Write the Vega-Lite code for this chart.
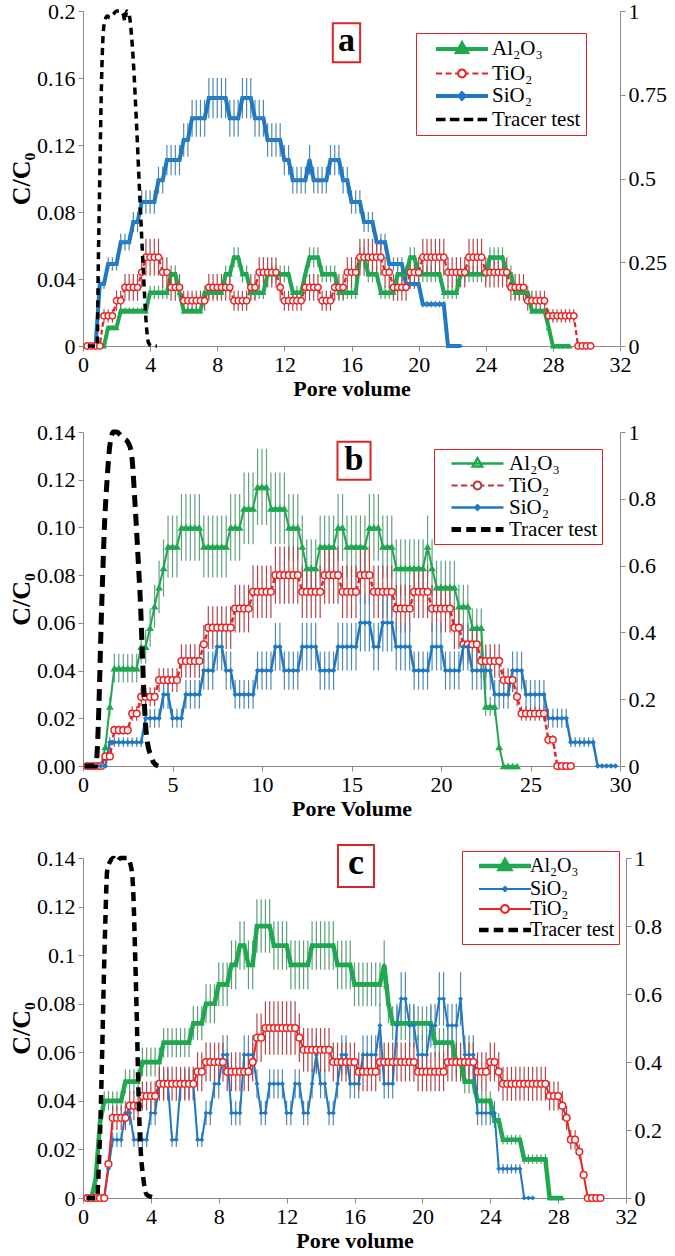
{
"$schema":"https://vega.github.io/schema/vega-lite/v6.json",
"background":"white",
"padding":{"left":8,"top":0,"right":4,"bottom":0},
"spacing":22,
"config":{"font":"Liberation Serif","view":{"stroke":null},
"axis":{"grid":false,"labelFont":"Liberation Serif","labelFontSize":22,"labelColor":"#000000","titleFont":"Liberation Serif","titleColor":"#000000","titleFontWeight":"bold","domainColor":"#8a8a8a","tickColor":"#8a8a8a","tickSize":5,"labelPadding":3,"labelFlush":false,"labelOverlap":false},
"axisX":{"titleFontSize":22,"titlePadding":3},
"axisY":{"titleFontSize":26,"titlePadding":2},
"text":{"font":"Liberation Serif"}},
"resolve":{"scale":{"color":"independent","shape":"independent","strokeWidth":"independent"},"legend":{"color":"independent","shape":"independent","strokeWidth":"independent"}},
"datasets":{
"A":[
{"s":"Al","x":0.25,"y":0},{"s":"Al","x":0.5,"y":0},{"s":"Al","x":0.75,"y":0},{"s":"Al","x":1,"y":0},{"s":"Al","x":1.25,"y":0},
{"s":"Al","x":1.5,"y":0.011,"e":0.001},{"s":"Al","x":1.75,"y":0.011,"e":0.001},{"s":"Al","x":2,"y":0.011,"e":0.001},
{"s":"Al","x":2.25,"y":0.021,"e":0.002},{"s":"Al","x":2.5,"y":0.021,"e":0.002},{"s":"Al","x":2.75,"y":0.021,"e":0.002},{"s":"Al","x":3,"y":0.021,"e":0.002},{"s":"Al","x":3.25,"y":0.021,"e":0.002},{"s":"Al","x":3.5,"y":0.021,"e":0.002},{"s":"Al","x":3.75,"y":0.021,"e":0.002},
{"s":"Al","x":4,"y":0.032,"e":0.004},{"s":"Al","x":4.25,"y":0.032,"e":0.004},{"s":"Al","x":4.5,"y":0.032,"e":0.004},{"s":"Al","x":4.75,"y":0.032,"e":0.004},{"s":"Al","x":5,"y":0.032,"e":0.004},
{"s":"Al","x":5.25,"y":0.043,"e":0.005},{"s":"Al","x":5.5,"y":0.043,"e":0.005},{"s":"Al","x":5.75,"y":0.032,"e":0.004},
{"s":"Al","x":6,"y":0.021,"e":0.002},{"s":"Al","x":6.25,"y":0.021,"e":0.002},{"s":"Al","x":6.5,"y":0.021,"e":0.002},{"s":"Al","x":6.75,"y":0.021,"e":0.002},{"s":"Al","x":7,"y":0.021,"e":0.002},
{"s":"Al","x":7.25,"y":0.032,"e":0.004},{"s":"Al","x":7.5,"y":0.032,"e":0.004},{"s":"Al","x":7.75,"y":0.032,"e":0.004},{"s":"Al","x":8,"y":0.032,"e":0.004},{"s":"Al","x":8.25,"y":0.032,"e":0.004},
{"s":"Al","x":8.5,"y":0.043,"e":0.005},{"s":"Al","x":8.75,"y":0.043,"e":0.005},{"s":"Al","x":9,"y":0.053,"e":0.006},{"s":"Al","x":9.25,"y":0.053,"e":0.006},{"s":"Al","x":9.5,"y":0.043,"e":0.005},{"s":"Al","x":9.75,"y":0.043,"e":0.005},
{"s":"Al","x":10,"y":0.032,"e":0.004},{"s":"Al","x":10.25,"y":0.032,"e":0.004},{"s":"Al","x":10.5,"y":0.032,"e":0.004},{"s":"Al","x":10.75,"y":0.032,"e":0.004},
{"s":"Al","x":11,"y":0.043,"e":0.005},{"s":"Al","x":11.25,"y":0.043,"e":0.005},{"s":"Al","x":11.5,"y":0.043,"e":0.005},{"s":"Al","x":11.75,"y":0.043,"e":0.005},{"s":"Al","x":12,"y":0.043,"e":0.005},{"s":"Al","x":12.25,"y":0.043,"e":0.005},
{"s":"Al","x":12.5,"y":0.032,"e":0.004},{"s":"Al","x":12.75,"y":0.032,"e":0.004},{"s":"Al","x":13,"y":0.032,"e":0.004},{"s":"Al","x":13.25,"y":0.043,"e":0.005},
{"s":"Al","x":13.5,"y":0.053,"e":0.006},{"s":"Al","x":13.75,"y":0.053,"e":0.006},{"s":"Al","x":14,"y":0.053,"e":0.006},
{"s":"Al","x":14.25,"y":0.043,"e":0.005},{"s":"Al","x":14.5,"y":0.043,"e":0.005},{"s":"Al","x":14.75,"y":0.043,"e":0.005},{"s":"Al","x":15,"y":0.043,"e":0.005},
{"s":"Al","x":15.25,"y":0.032,"e":0.004},{"s":"Al","x":15.5,"y":0.032,"e":0.004},{"s":"Al","x":15.75,"y":0.032,"e":0.004},{"s":"Al","x":16,"y":0.032,"e":0.004},{"s":"Al","x":16.25,"y":0.032,"e":0.004},
{"s":"Al","x":16.5,"y":0.053,"e":0.006},{"s":"Al","x":16.75,"y":0.053,"e":0.006},{"s":"Al","x":17,"y":0.043,"e":0.005},{"s":"Al","x":17.25,"y":0.043,"e":0.005},{"s":"Al","x":17.5,"y":0.043,"e":0.005},
{"s":"Al","x":17.75,"y":0.032,"e":0.004},{"s":"Al","x":18,"y":0.032,"e":0.004},{"s":"Al","x":18.25,"y":0.032,"e":0.004},{"s":"Al","x":18.5,"y":0.032,"e":0.004},
{"s":"Al","x":18.75,"y":0.043,"e":0.005},{"s":"Al","x":19,"y":0.043,"e":0.005},{"s":"Al","x":19.25,"y":0.043,"e":0.005},{"s":"Al","x":19.5,"y":0.053,"e":0.006},{"s":"Al","x":19.75,"y":0.053,"e":0.006},
{"s":"Al","x":20,"y":0.043,"e":0.005},{"s":"Al","x":20.25,"y":0.043,"e":0.005},{"s":"Al","x":20.5,"y":0.043,"e":0.005},{"s":"Al","x":20.75,"y":0.043,"e":0.005},{"s":"Al","x":21,"y":0.043,"e":0.005},{"s":"Al","x":21.25,"y":0.043,"e":0.005},
{"s":"Al","x":21.5,"y":0.032,"e":0.004},{"s":"Al","x":21.75,"y":0.032,"e":0.004},{"s":"Al","x":22,"y":0.032,"e":0.004},{"s":"Al","x":22.25,"y":0.032,"e":0.004},
{"s":"Al","x":22.5,"y":0.043,"e":0.005},{"s":"Al","x":22.75,"y":0.043,"e":0.005},{"s":"Al","x":23,"y":0.043,"e":0.005},{"s":"Al","x":23.25,"y":0.043,"e":0.005},{"s":"Al","x":23.5,"y":0.043,"e":0.005},{"s":"Al","x":23.75,"y":0.043,"e":0.005},{"s":"Al","x":24,"y":0.043,"e":0.005},
{"s":"Al","x":24.25,"y":0.053,"e":0.006},{"s":"Al","x":24.5,"y":0.053,"e":0.006},{"s":"Al","x":24.75,"y":0.053,"e":0.006},{"s":"Al","x":25,"y":0.053,"e":0.006},
{"s":"Al","x":25.25,"y":0.043,"e":0.005},{"s":"Al","x":25.5,"y":0.043,"e":0.005},
{"s":"Al","x":25.75,"y":0.032,"e":0.004},{"s":"Al","x":26,"y":0.032,"e":0.004},{"s":"Al","x":26.25,"y":0.032,"e":0.004},{"s":"Al","x":26.5,"y":0.032,"e":0.004},
{"s":"Al","x":26.75,"y":0.021,"e":0.002},{"s":"Al","x":27,"y":0.021,"e":0.002},{"s":"Al","x":27.25,"y":0.021,"e":0.002},{"s":"Al","x":27.5,"y":0.021,"e":0.002},
{"s":"Al","x":27.75,"y":0.011,"e":0.001},{"s":"Al","x":28,"y":0},{"s":"Al","x":28.25,"y":0},{"s":"Al","x":28.5,"y":0},{"s":"Al","x":28.75,"y":0},{"s":"Al","x":29,"y":0},
{"s":"Ti","x":0.25,"y":0},{"s":"Ti","x":0.5,"y":0},{"s":"Ti","x":0.75,"y":0},{"s":"Ti","x":1,"y":0},
{"s":"Ti","x":1.25,"y":0.018,"e":0.004},{"s":"Ti","x":1.5,"y":0.018,"e":0.004},{"s":"Ti","x":1.75,"y":0.018,"e":0.004},
{"s":"Ti","x":2,"y":0.027,"e":0.006},{"s":"Ti","x":2.25,"y":0.027,"e":0.006},
{"s":"Ti","x":2.5,"y":0.035,"e":0.008},{"s":"Ti","x":2.75,"y":0.035,"e":0.008},{"s":"Ti","x":3,"y":0.035,"e":0.008},{"s":"Ti","x":3.25,"y":0.035,"e":0.008},
{"s":"Ti","x":3.5,"y":0.044,"e":0.009},
{"s":"Ti","x":3.75,"y":0.053,"e":0.011},{"s":"Ti","x":4,"y":0.053,"e":0.011},{"s":"Ti","x":4.25,"y":0.053,"e":0.011},{"s":"Ti","x":4.5,"y":0.053,"e":0.011},
{"s":"Ti","x":4.75,"y":0.044,"e":0.009},{"s":"Ti","x":5,"y":0.044,"e":0.009},
{"s":"Ti","x":5.25,"y":0.035,"e":0.008},{"s":"Ti","x":5.5,"y":0.035,"e":0.008},{"s":"Ti","x":5.75,"y":0.035,"e":0.008},
{"s":"Ti","x":6,"y":0.027,"e":0.006},{"s":"Ti","x":6.25,"y":0.027,"e":0.006},{"s":"Ti","x":6.5,"y":0.027,"e":0.006},{"s":"Ti","x":6.75,"y":0.027,"e":0.006},{"s":"Ti","x":7,"y":0.027,"e":0.006},{"s":"Ti","x":7.25,"y":0.027,"e":0.006},
{"s":"Ti","x":7.5,"y":0.035,"e":0.008},{"s":"Ti","x":7.75,"y":0.035,"e":0.008},{"s":"Ti","x":8,"y":0.035,"e":0.008},{"s":"Ti","x":8.25,"y":0.035,"e":0.008},{"s":"Ti","x":8.5,"y":0.035,"e":0.008},{"s":"Ti","x":8.75,"y":0.035,"e":0.008},
{"s":"Ti","x":9,"y":0.027,"e":0.006},{"s":"Ti","x":9.25,"y":0.027,"e":0.006},{"s":"Ti","x":9.5,"y":0.027,"e":0.006},{"s":"Ti","x":9.75,"y":0.027,"e":0.006},
{"s":"Ti","x":10,"y":0.035,"e":0.008},{"s":"Ti","x":10.25,"y":0.035,"e":0.008},
{"s":"Ti","x":10.5,"y":0.044,"e":0.009},{"s":"Ti","x":10.75,"y":0.044,"e":0.009},{"s":"Ti","x":11,"y":0.044,"e":0.009},{"s":"Ti","x":11.25,"y":0.044,"e":0.009},{"s":"Ti","x":11.5,"y":0.044,"e":0.009},
{"s":"Ti","x":11.75,"y":0.035,"e":0.008},
{"s":"Ti","x":12,"y":0.027,"e":0.006},{"s":"Ti","x":12.25,"y":0.027,"e":0.006},{"s":"Ti","x":12.5,"y":0.027,"e":0.006},{"s":"Ti","x":12.75,"y":0.027,"e":0.006},{"s":"Ti","x":13,"y":0.027,"e":0.006},
{"s":"Ti","x":13.25,"y":0.035,"e":0.008},{"s":"Ti","x":13.5,"y":0.035,"e":0.008},{"s":"Ti","x":13.75,"y":0.035,"e":0.008},{"s":"Ti","x":14,"y":0.035,"e":0.008},
{"s":"Ti","x":14.25,"y":0.027,"e":0.006},{"s":"Ti","x":14.5,"y":0.027,"e":0.006},{"s":"Ti","x":14.75,"y":0.027,"e":0.006},
{"s":"Ti","x":15,"y":0.035,"e":0.008},{"s":"Ti","x":15.25,"y":0.035,"e":0.008},{"s":"Ti","x":15.5,"y":0.035,"e":0.008},
{"s":"Ti","x":15.75,"y":0.044,"e":0.009},{"s":"Ti","x":16,"y":0.044,"e":0.009},{"s":"Ti","x":16.25,"y":0.044,"e":0.009},
{"s":"Ti","x":16.5,"y":0.053,"e":0.011},{"s":"Ti","x":16.75,"y":0.053,"e":0.011},{"s":"Ti","x":17,"y":0.053,"e":0.011},{"s":"Ti","x":17.25,"y":0.053,"e":0.011},{"s":"Ti","x":17.5,"y":0.053,"e":0.011},{"s":"Ti","x":17.75,"y":0.053,"e":0.011},
{"s":"Ti","x":18,"y":0.044,"e":0.009},{"s":"Ti","x":18.25,"y":0.044,"e":0.009},
{"s":"Ti","x":18.5,"y":0.035,"e":0.008},{"s":"Ti","x":18.75,"y":0.035,"e":0.008},{"s":"Ti","x":19,"y":0.035,"e":0.008},{"s":"Ti","x":19.25,"y":0.035,"e":0.008},
{"s":"Ti","x":19.5,"y":0.044,"e":0.009},{"s":"Ti","x":19.75,"y":0.044,"e":0.009},{"s":"Ti","x":20,"y":0.044,"e":0.009},
{"s":"Ti","x":20.25,"y":0.053,"e":0.011},{"s":"Ti","x":20.5,"y":0.053,"e":0.011},{"s":"Ti","x":20.75,"y":0.053,"e":0.011},{"s":"Ti","x":21,"y":0.053,"e":0.011},{"s":"Ti","x":21.25,"y":0.053,"e":0.011},{"s":"Ti","x":21.5,"y":0.053,"e":0.011},
{"s":"Ti","x":21.75,"y":0.044,"e":0.009},{"s":"Ti","x":22,"y":0.044,"e":0.009},{"s":"Ti","x":22.25,"y":0.044,"e":0.009},{"s":"Ti","x":22.5,"y":0.044,"e":0.009},{"s":"Ti","x":22.75,"y":0.044,"e":0.009},
{"s":"Ti","x":23,"y":0.053,"e":0.011},{"s":"Ti","x":23.25,"y":0.053,"e":0.011},{"s":"Ti","x":23.5,"y":0.053,"e":0.011},{"s":"Ti","x":23.75,"y":0.053,"e":0.011},
{"s":"Ti","x":24,"y":0.044,"e":0.009},{"s":"Ti","x":24.25,"y":0.044,"e":0.009},{"s":"Ti","x":24.5,"y":0.044,"e":0.009},{"s":"Ti","x":24.75,"y":0.044,"e":0.009},{"s":"Ti","x":25,"y":0.044,"e":0.009},{"s":"Ti","x":25.25,"y":0.044,"e":0.009},
{"s":"Ti","x":25.5,"y":0.035,"e":0.008},{"s":"Ti","x":25.75,"y":0.035,"e":0.008},{"s":"Ti","x":26,"y":0.035,"e":0.008},{"s":"Ti","x":26.25,"y":0.035,"e":0.008},
{"s":"Ti","x":26.5,"y":0.027,"e":0.006},{"s":"Ti","x":26.75,"y":0.027,"e":0.006},{"s":"Ti","x":27,"y":0.027,"e":0.006},{"s":"Ti","x":27.25,"y":0.027,"e":0.006},{"s":"Ti","x":27.5,"y":0.027,"e":0.006},
{"s":"Ti","x":27.75,"y":0.018,"e":0.004},{"s":"Ti","x":28,"y":0.018,"e":0.004},{"s":"Ti","x":28.25,"y":0.018,"e":0.004},{"s":"Ti","x":28.5,"y":0.018,"e":0.004},{"s":"Ti","x":28.75,"y":0.018,"e":0.004},{"s":"Ti","x":29,"y":0.018,"e":0.004},{"s":"Ti","x":29.25,"y":0.018,"e":0.004},
{"s":"Ti","x":29.5,"y":0},{"s":"Ti","x":29.75,"y":0},{"s":"Ti","x":30,"y":0},{"s":"Ti","x":30.25,"y":0},
{"s":"Si","x":0.25,"y":0},{"s":"Si","x":0.5,"y":0},{"s":"Si","x":0.75,"y":0},
{"s":"Si","x":1,"y":0.037,"e":0.003},{"s":"Si","x":1.25,"y":0.037,"e":0.003},
{"s":"Si","x":1.5,"y":0.049,"e":0.004},{"s":"Si","x":1.75,"y":0.049,"e":0.004},{"s":"Si","x":2,"y":0.049,"e":0.004},
{"s":"Si","x":2.25,"y":0.062,"e":0.005},{"s":"Si","x":2.5,"y":0.062,"e":0.005},{"s":"Si","x":2.75,"y":0.062,"e":0.005},
{"s":"Si","x":3,"y":0.074,"e":0.006},{"s":"Si","x":3.25,"y":0.074,"e":0.006},
{"s":"Si","x":3.5,"y":0.086,"e":0.007},{"s":"Si","x":3.75,"y":0.086,"e":0.007},{"s":"Si","x":4,"y":0.086,"e":0.007},{"s":"Si","x":4.25,"y":0.086,"e":0.007},
{"s":"Si","x":4.5,"y":0.099,"e":0.008},{"s":"Si","x":4.75,"y":0.099,"e":0.008},
{"s":"Si","x":5,"y":0.111,"e":0.009},{"s":"Si","x":5.25,"y":0.111,"e":0.009},{"s":"Si","x":5.5,"y":0.111,"e":0.009},{"s":"Si","x":5.75,"y":0.111,"e":0.009},
{"s":"Si","x":6,"y":0.123,"e":0.01},{"s":"Si","x":6.25,"y":0.123,"e":0.01},
{"s":"Si","x":6.5,"y":0.136,"e":0.011},{"s":"Si","x":6.75,"y":0.136,"e":0.011},{"s":"Si","x":7,"y":0.136,"e":0.011},{"s":"Si","x":7.25,"y":0.136,"e":0.011},
{"s":"Si","x":7.5,"y":0.148,"e":0.012},{"s":"Si","x":7.75,"y":0.148,"e":0.012},{"s":"Si","x":8,"y":0.148,"e":0.012},{"s":"Si","x":8.25,"y":0.148,"e":0.012},{"s":"Si","x":8.5,"y":0.148,"e":0.012},
{"s":"Si","x":8.75,"y":0.136,"e":0.011},{"s":"Si","x":9,"y":0.136,"e":0.011},{"s":"Si","x":9.25,"y":0.136,"e":0.011},
{"s":"Si","x":9.5,"y":0.148,"e":0.012},{"s":"Si","x":9.75,"y":0.148,"e":0.012},{"s":"Si","x":10,"y":0.148,"e":0.012},
{"s":"Si","x":10.25,"y":0.136,"e":0.011},{"s":"Si","x":10.5,"y":0.136,"e":0.011},{"s":"Si","x":10.75,"y":0.136,"e":0.011},
{"s":"Si","x":11,"y":0.123,"e":0.01},{"s":"Si","x":11.25,"y":0.123,"e":0.01},{"s":"Si","x":11.5,"y":0.123,"e":0.01},{"s":"Si","x":11.75,"y":0.123,"e":0.01},
{"s":"Si","x":12,"y":0.111,"e":0.009},{"s":"Si","x":12.25,"y":0.111,"e":0.009},
{"s":"Si","x":12.5,"y":0.099,"e":0.008},{"s":"Si","x":12.75,"y":0.099,"e":0.008},{"s":"Si","x":13,"y":0.099,"e":0.008},{"s":"Si","x":13.25,"y":0.099,"e":0.008},
{"s":"Si","x":13.5,"y":0.111,"e":0.009},
{"s":"Si","x":13.75,"y":0.099,"e":0.008},{"s":"Si","x":14,"y":0.099,"e":0.008},{"s":"Si","x":14.25,"y":0.099,"e":0.008},{"s":"Si","x":14.5,"y":0.099,"e":0.008},
{"s":"Si","x":14.75,"y":0.111,"e":0.009},{"s":"Si","x":15,"y":0.111,"e":0.009},{"s":"Si","x":15.25,"y":0.111,"e":0.009},
{"s":"Si","x":15.5,"y":0.099,"e":0.008},{"s":"Si","x":15.75,"y":0.099,"e":0.008},
{"s":"Si","x":16,"y":0.086,"e":0.007},{"s":"Si","x":16.25,"y":0.086,"e":0.007},{"s":"Si","x":16.5,"y":0.086,"e":0.007},
{"s":"Si","x":16.75,"y":0.074,"e":0.006},{"s":"Si","x":17,"y":0.074,"e":0.006},{"s":"Si","x":17.25,"y":0.074,"e":0.006},
{"s":"Si","x":17.5,"y":0.062,"e":0.005},{"s":"Si","x":17.75,"y":0.062,"e":0.005},{"s":"Si","x":18,"y":0.062,"e":0.005},
{"s":"Si","x":18.25,"y":0.049,"e":0.004},{"s":"Si","x":18.5,"y":0.049,"e":0.004},{"s":"Si","x":18.75,"y":0.049,"e":0.004},{"s":"Si","x":19,"y":0.049,"e":0.004},
{"s":"Si","x":19.25,"y":0.037,"e":0.003},{"s":"Si","x":19.5,"y":0.037,"e":0.003},{"s":"Si","x":19.75,"y":0.037,"e":0.003},{"s":"Si","x":20,"y":0.037,"e":0.003},
{"s":"Si","x":20.25,"y":0.025,"e":0.002},{"s":"Si","x":20.5,"y":0.025,"e":0.002},{"s":"Si","x":20.75,"y":0.025,"e":0.002},{"s":"Si","x":21,"y":0.025,"e":0.002},{"s":"Si","x":21.25,"y":0.025,"e":0.002},{"s":"Si","x":21.5,"y":0.025,"e":0.002},
{"s":"Si","x":21.75,"y":0},{"s":"Si","x":22,"y":0},{"s":"Si","x":22.25,"y":0},{"s":"Si","x":22.5,"y":0},
{"s":"Tr","x":0.3,"y":0},{"s":"Tr","x":0.6,"y":0},{"s":"Tr","x":0.85,"y":0},{"s":"Tr","x":0.9,"y":0.2},{"s":"Tr","x":1,"y":0.5},{"s":"Tr","x":1.1,"y":0.78},{"s":"Tr","x":1.2,"y":0.93},{"s":"Tr","x":1.3,"y":0.97},{"s":"Tr","x":1.45,"y":0.985},{"s":"Tr","x":1.6,"y":0.98},{"s":"Tr","x":1.8,"y":0.99},{"s":"Tr","x":2,"y":1},{"s":"Tr","x":2.2,"y":1},{"s":"Tr","x":2.4,"y":0.99},{"s":"Tr","x":2.5,"y":0.97},{"s":"Tr","x":2.6,"y":1},{"s":"Tr","x":2.75,"y":0.99},{"s":"Tr","x":2.85,"y":0.95},{"s":"Tr","x":3,"y":0.85},{"s":"Tr","x":3.2,"y":0.65},{"s":"Tr","x":3.4,"y":0.43},{"s":"Tr","x":3.6,"y":0.22},{"s":"Tr","x":3.75,"y":0.08},{"s":"Tr","x":3.9,"y":0.01},{"s":"Tr","x":4.1,"y":0},{"s":"Tr","x":4.4,"y":0}
],
"B":[
{"s":"Al","x":0.25,"y":0},{"s":"Al","x":0.5,"y":0},{"s":"Al","x":0.75,"y":0},{"s":"Al","x":1,"y":0},
{"s":"Al","x":1.25,"y":0.008,"e":0.001},{"s":"Al","x":1.5,"y":0.025,"e":0.004},
{"s":"Al","x":1.75,"y":0.041,"e":0.006},{"s":"Al","x":2,"y":0.041,"e":0.006},{"s":"Al","x":2.25,"y":0.041,"e":0.006},{"s":"Al","x":2.5,"y":0.041,"e":0.006},{"s":"Al","x":2.75,"y":0.041,"e":0.006},{"s":"Al","x":3,"y":0.041,"e":0.006},
{"s":"Al","x":3.25,"y":0.05,"e":0.007},{"s":"Al","x":3.5,"y":0.05,"e":0.007},{"s":"Al","x":3.75,"y":0.058,"e":0.008},{"s":"Al","x":4,"y":0.067,"e":0.009},{"s":"Al","x":4.25,"y":0.075,"e":0.011},{"s":"Al","x":4.5,"y":0.083,"e":0.012},
{"s":"Al","x":4.75,"y":0.092,"e":0.013},{"s":"Al","x":5,"y":0.092,"e":0.013},{"s":"Al","x":5.25,"y":0.092,"e":0.013},
{"s":"Al","x":5.5,"y":0.1,"e":0.014},{"s":"Al","x":5.75,"y":0.1,"e":0.014},{"s":"Al","x":6,"y":0.1,"e":0.014},{"s":"Al","x":6.25,"y":0.1,"e":0.014},{"s":"Al","x":6.5,"y":0.1,"e":0.014},
{"s":"Al","x":6.75,"y":0.092,"e":0.013},{"s":"Al","x":7,"y":0.092,"e":0.013},{"s":"Al","x":7.25,"y":0.092,"e":0.013},{"s":"Al","x":7.5,"y":0.092,"e":0.013},{"s":"Al","x":7.75,"y":0.092,"e":0.013},{"s":"Al","x":8,"y":0.092,"e":0.013},
{"s":"Al","x":8.25,"y":0.1,"e":0.014},{"s":"Al","x":8.5,"y":0.1,"e":0.014},{"s":"Al","x":8.75,"y":0.1,"e":0.014},
{"s":"Al","x":9,"y":0.108,"e":0.015},{"s":"Al","x":9.25,"y":0.108,"e":0.015},{"s":"Al","x":9.5,"y":0.108,"e":0.015},
{"s":"Al","x":9.75,"y":0.117,"e":0.016},{"s":"Al","x":10,"y":0.117,"e":0.016},{"s":"Al","x":10.25,"y":0.117,"e":0.016},
{"s":"Al","x":10.5,"y":0.108,"e":0.015},{"s":"Al","x":10.75,"y":0.108,"e":0.015},{"s":"Al","x":11,"y":0.108,"e":0.015},{"s":"Al","x":11.25,"y":0.108,"e":0.015},
{"s":"Al","x":11.5,"y":0.1,"e":0.014},{"s":"Al","x":11.75,"y":0.1,"e":0.014},{"s":"Al","x":12,"y":0.1,"e":0.014},
{"s":"Al","x":12.25,"y":0.092,"e":0.013},{"s":"Al","x":12.5,"y":0.083,"e":0.012},{"s":"Al","x":12.75,"y":0.083,"e":0.012},{"s":"Al","x":13,"y":0.083,"e":0.012},
{"s":"Al","x":13.25,"y":0.092,"e":0.013},{"s":"Al","x":13.5,"y":0.092,"e":0.013},{"s":"Al","x":13.75,"y":0.092,"e":0.013},{"s":"Al","x":14,"y":0.092,"e":0.013},
{"s":"Al","x":14.25,"y":0.1,"e":0.014},{"s":"Al","x":14.5,"y":0.1,"e":0.014},
{"s":"Al","x":14.75,"y":0.092,"e":0.013},{"s":"Al","x":15,"y":0.092,"e":0.013},{"s":"Al","x":15.25,"y":0.092,"e":0.013},{"s":"Al","x":15.5,"y":0.092,"e":0.013},{"s":"Al","x":15.75,"y":0.092,"e":0.013},
{"s":"Al","x":16,"y":0.1,"e":0.014},{"s":"Al","x":16.25,"y":0.1,"e":0.014},{"s":"Al","x":16.5,"y":0.1,"e":0.014},
{"s":"Al","x":16.75,"y":0.092,"e":0.013},{"s":"Al","x":17,"y":0.092,"e":0.013},{"s":"Al","x":17.25,"y":0.092,"e":0.013},
{"s":"Al","x":17.5,"y":0.083,"e":0.012},{"s":"Al","x":17.75,"y":0.083,"e":0.012},{"s":"Al","x":18,"y":0.083,"e":0.012},{"s":"Al","x":18.25,"y":0.083,"e":0.012},{"s":"Al","x":18.5,"y":0.083,"e":0.012},{"s":"Al","x":18.75,"y":0.083,"e":0.012},{"s":"Al","x":19,"y":0.083,"e":0.012},
{"s":"Al","x":19.25,"y":0.092,"e":0.013},{"s":"Al","x":19.5,"y":0.083,"e":0.012},
{"s":"Al","x":19.75,"y":0.075,"e":0.011},{"s":"Al","x":20,"y":0.075,"e":0.011},{"s":"Al","x":20.25,"y":0.075,"e":0.011},{"s":"Al","x":20.5,"y":0.075,"e":0.011},{"s":"Al","x":20.75,"y":0.075,"e":0.011},
{"s":"Al","x":21,"y":0.067,"e":0.009},{"s":"Al","x":21.25,"y":0.067,"e":0.009},{"s":"Al","x":21.5,"y":0.067,"e":0.009},
{"s":"Al","x":21.75,"y":0.058,"e":0.008},{"s":"Al","x":22,"y":0.058,"e":0.008},{"s":"Al","x":22.25,"y":0.058,"e":0.008},
{"s":"Al","x":22.5,"y":0.025,"e":0.004},{"s":"Al","x":22.75,"y":0.025,"e":0.004},{"s":"Al","x":23,"y":0.025,"e":0.004},{"s":"Al","x":23.25,"y":0.008,"e":0.001},
{"s":"Al","x":23.5,"y":0},{"s":"Al","x":23.75,"y":0},{"s":"Al","x":24,"y":0},{"s":"Al","x":24.25,"y":0},
{"s":"Ti","x":0.25,"y":0},{"s":"Ti","x":0.5,"y":0},{"s":"Ti","x":0.75,"y":0},{"s":"Ti","x":1,"y":0},
{"s":"Ti","x":1.25,"y":0.004,"e":0.001},{"s":"Ti","x":1.5,"y":0.004,"e":0.001},
{"s":"Ti","x":1.75,"y":0.015,"e":0.002},{"s":"Ti","x":2,"y":0.015,"e":0.002},{"s":"Ti","x":2.25,"y":0.015,"e":0.002},{"s":"Ti","x":2.5,"y":0.015,"e":0.002},
{"s":"Ti","x":2.75,"y":0.022,"e":0.003},{"s":"Ti","x":3,"y":0.022,"e":0.003},
{"s":"Ti","x":3.25,"y":0.029,"e":0.004},{"s":"Ti","x":3.5,"y":0.029,"e":0.004},{"s":"Ti","x":3.75,"y":0.029,"e":0.004},{"s":"Ti","x":4,"y":0.029,"e":0.004},
{"s":"Ti","x":4.25,"y":0.036,"e":0.005},{"s":"Ti","x":4.5,"y":0.036,"e":0.005},{"s":"Ti","x":4.75,"y":0.036,"e":0.005},{"s":"Ti","x":5,"y":0.036,"e":0.005},{"s":"Ti","x":5.25,"y":0.036,"e":0.005},
{"s":"Ti","x":5.5,"y":0.044,"e":0.007},{"s":"Ti","x":5.75,"y":0.044,"e":0.007},{"s":"Ti","x":6,"y":0.044,"e":0.007},{"s":"Ti","x":6.25,"y":0.044,"e":0.007},{"s":"Ti","x":6.5,"y":0.044,"e":0.007},
{"s":"Ti","x":6.75,"y":0.051,"e":0.008},
{"s":"Ti","x":7,"y":0.058,"e":0.009},{"s":"Ti","x":7.25,"y":0.058,"e":0.009},{"s":"Ti","x":7.5,"y":0.058,"e":0.009},{"s":"Ti","x":7.75,"y":0.058,"e":0.009},{"s":"Ti","x":8,"y":0.058,"e":0.009},{"s":"Ti","x":8.25,"y":0.058,"e":0.009},
{"s":"Ti","x":8.5,"y":0.066,"e":0.01},{"s":"Ti","x":8.75,"y":0.066,"e":0.01},{"s":"Ti","x":9,"y":0.066,"e":0.01},{"s":"Ti","x":9.25,"y":0.066,"e":0.01},
{"s":"Ti","x":9.5,"y":0.073,"e":0.011},{"s":"Ti","x":9.75,"y":0.073,"e":0.011},{"s":"Ti","x":10,"y":0.073,"e":0.011},{"s":"Ti","x":10.25,"y":0.073,"e":0.011},{"s":"Ti","x":10.5,"y":0.073,"e":0.011},
{"s":"Ti","x":10.75,"y":0.08,"e":0.012},{"s":"Ti","x":11,"y":0.08,"e":0.012},{"s":"Ti","x":11.25,"y":0.08,"e":0.012},{"s":"Ti","x":11.5,"y":0.08,"e":0.012},{"s":"Ti","x":11.75,"y":0.08,"e":0.012},{"s":"Ti","x":12,"y":0.08,"e":0.012},
{"s":"Ti","x":12.25,"y":0.073,"e":0.011},{"s":"Ti","x":12.5,"y":0.073,"e":0.011},{"s":"Ti","x":12.75,"y":0.073,"e":0.011},{"s":"Ti","x":13,"y":0.073,"e":0.011},{"s":"Ti","x":13.25,"y":0.073,"e":0.011},
{"s":"Ti","x":13.5,"y":0.08,"e":0.012},{"s":"Ti","x":13.75,"y":0.08,"e":0.012},{"s":"Ti","x":14,"y":0.08,"e":0.012},{"s":"Ti","x":14.25,"y":0.08,"e":0.012},
{"s":"Ti","x":14.5,"y":0.073,"e":0.011},{"s":"Ti","x":14.75,"y":0.073,"e":0.011},{"s":"Ti","x":15,"y":0.073,"e":0.011},{"s":"Ti","x":15.25,"y":0.073,"e":0.011},
{"s":"Ti","x":15.5,"y":0.08,"e":0.012},{"s":"Ti","x":15.75,"y":0.08,"e":0.012},{"s":"Ti","x":16,"y":0.08,"e":0.012},
{"s":"Ti","x":16.25,"y":0.073,"e":0.011},{"s":"Ti","x":16.5,"y":0.073,"e":0.011},{"s":"Ti","x":16.75,"y":0.073,"e":0.011},{"s":"Ti","x":17,"y":0.073,"e":0.011},{"s":"Ti","x":17.25,"y":0.073,"e":0.011},
{"s":"Ti","x":17.5,"y":0.066,"e":0.01},{"s":"Ti","x":17.75,"y":0.066,"e":0.01},{"s":"Ti","x":18,"y":0.066,"e":0.01},{"s":"Ti","x":18.25,"y":0.066,"e":0.01},
{"s":"Ti","x":18.5,"y":0.073,"e":0.011},{"s":"Ti","x":18.75,"y":0.073,"e":0.011},{"s":"Ti","x":19,"y":0.073,"e":0.011},{"s":"Ti","x":19.25,"y":0.073,"e":0.011},
{"s":"Ti","x":19.5,"y":0.066,"e":0.01},{"s":"Ti","x":19.75,"y":0.066,"e":0.01},{"s":"Ti","x":20,"y":0.066,"e":0.01},{"s":"Ti","x":20.25,"y":0.066,"e":0.01},{"s":"Ti","x":20.5,"y":0.066,"e":0.01},
{"s":"Ti","x":20.75,"y":0.058,"e":0.009},{"s":"Ti","x":21,"y":0.058,"e":0.009},
{"s":"Ti","x":21.25,"y":0.051,"e":0.008},{"s":"Ti","x":21.5,"y":0.051,"e":0.008},{"s":"Ti","x":21.75,"y":0.051,"e":0.008},{"s":"Ti","x":22,"y":0.051,"e":0.008},
{"s":"Ti","x":22.25,"y":0.044,"e":0.007},{"s":"Ti","x":22.5,"y":0.044,"e":0.007},{"s":"Ti","x":22.75,"y":0.044,"e":0.007},{"s":"Ti","x":23,"y":0.044,"e":0.007},{"s":"Ti","x":23.25,"y":0.044,"e":0.007},
{"s":"Ti","x":23.5,"y":0.036,"e":0.005},{"s":"Ti","x":23.75,"y":0.036,"e":0.005},{"s":"Ti","x":24,"y":0.036,"e":0.005},
{"s":"Ti","x":24.25,"y":0.029,"e":0.004},
{"s":"Ti","x":24.5,"y":0.022,"e":0.003},{"s":"Ti","x":24.75,"y":0.022,"e":0.003},{"s":"Ti","x":25,"y":0.022,"e":0.003},{"s":"Ti","x":25.25,"y":0.022,"e":0.003},{"s":"Ti","x":25.5,"y":0.022,"e":0.003},{"s":"Ti","x":25.75,"y":0.022,"e":0.003},
{"s":"Ti","x":26,"y":0.011,"e":0.002},{"s":"Ti","x":26.25,"y":0.011,"e":0.002},
{"s":"Ti","x":26.5,"y":0},{"s":"Ti","x":26.75,"y":0},{"s":"Ti","x":27,"y":0},{"s":"Ti","x":27.25,"y":0},
{"s":"Si","x":0.25,"y":0},{"s":"Si","x":0.5,"y":0},{"s":"Si","x":0.75,"y":0},{"s":"Si","x":1,"y":0},{"s":"Si","x":1.25,"y":0},
{"s":"Si","x":1.5,"y":0.01,"e":0.002},{"s":"Si","x":1.75,"y":0.01,"e":0.002},{"s":"Si","x":2,"y":0.01,"e":0.002},{"s":"Si","x":2.25,"y":0.01,"e":0.002},{"s":"Si","x":2.5,"y":0.01,"e":0.002},{"s":"Si","x":2.75,"y":0.01,"e":0.002},{"s":"Si","x":3,"y":0.01,"e":0.002},{"s":"Si","x":3.25,"y":0.01,"e":0.002},
{"s":"Si","x":3.5,"y":0.02,"e":0.004},{"s":"Si","x":3.75,"y":0.02,"e":0.004},{"s":"Si","x":4,"y":0.02,"e":0.004},{"s":"Si","x":4.25,"y":0.02,"e":0.004},
{"s":"Si","x":4.5,"y":0.03,"e":0.006},{"s":"Si","x":4.75,"y":0.03,"e":0.006},
{"s":"Si","x":5,"y":0.02,"e":0.004},{"s":"Si","x":5.25,"y":0.02,"e":0.004},{"s":"Si","x":5.5,"y":0.02,"e":0.004},
{"s":"Si","x":5.75,"y":0.03,"e":0.006},{"s":"Si","x":6,"y":0.03,"e":0.006},{"s":"Si","x":6.25,"y":0.03,"e":0.006},{"s":"Si","x":6.5,"y":0.03,"e":0.006},
{"s":"Si","x":6.75,"y":0.04,"e":0.008},{"s":"Si","x":7,"y":0.04,"e":0.008},{"s":"Si","x":7.25,"y":0.04,"e":0.008},
{"s":"Si","x":7.5,"y":0.05,"e":0.01},{"s":"Si","x":7.75,"y":0.05,"e":0.01},
{"s":"Si","x":8,"y":0.04,"e":0.008},{"s":"Si","x":8.25,"y":0.04,"e":0.008},
{"s":"Si","x":8.5,"y":0.03,"e":0.006},{"s":"Si","x":8.75,"y":0.03,"e":0.006},{"s":"Si","x":9,"y":0.03,"e":0.006},{"s":"Si","x":9.25,"y":0.03,"e":0.006},{"s":"Si","x":9.5,"y":0.03,"e":0.006},
{"s":"Si","x":9.75,"y":0.04,"e":0.008},{"s":"Si","x":10,"y":0.04,"e":0.008},{"s":"Si","x":10.25,"y":0.04,"e":0.008},{"s":"Si","x":10.5,"y":0.04,"e":0.008},
{"s":"Si","x":10.75,"y":0.05,"e":0.01},{"s":"Si","x":11,"y":0.05,"e":0.01},
{"s":"Si","x":11.25,"y":0.04,"e":0.008},{"s":"Si","x":11.5,"y":0.04,"e":0.008},{"s":"Si","x":11.75,"y":0.04,"e":0.008},{"s":"Si","x":12,"y":0.04,"e":0.008},
{"s":"Si","x":12.25,"y":0.05,"e":0.01},{"s":"Si","x":12.5,"y":0.05,"e":0.01},{"s":"Si","x":12.75,"y":0.05,"e":0.01},{"s":"Si","x":13,"y":0.05,"e":0.01},
{"s":"Si","x":13.25,"y":0.04,"e":0.008},{"s":"Si","x":13.5,"y":0.04,"e":0.008},{"s":"Si","x":13.75,"y":0.04,"e":0.008},{"s":"Si","x":14,"y":0.04,"e":0.008},
{"s":"Si","x":14.25,"y":0.05,"e":0.01},{"s":"Si","x":14.5,"y":0.05,"e":0.01},{"s":"Si","x":14.75,"y":0.05,"e":0.01},{"s":"Si","x":15,"y":0.05,"e":0.01},{"s":"Si","x":15.25,"y":0.05,"e":0.01},
{"s":"Si","x":15.5,"y":0.06,"e":0.012},{"s":"Si","x":15.75,"y":0.06,"e":0.012},{"s":"Si","x":16,"y":0.06,"e":0.012},
{"s":"Si","x":16.25,"y":0.05,"e":0.01},{"s":"Si","x":16.5,"y":0.05,"e":0.01},
{"s":"Si","x":16.75,"y":0.06,"e":0.012},{"s":"Si","x":17,"y":0.06,"e":0.012},{"s":"Si","x":17.25,"y":0.06,"e":0.012},
{"s":"Si","x":17.5,"y":0.05,"e":0.01},{"s":"Si","x":17.75,"y":0.05,"e":0.01},{"s":"Si","x":18,"y":0.05,"e":0.01},{"s":"Si","x":18.25,"y":0.05,"e":0.01},
{"s":"Si","x":18.5,"y":0.04,"e":0.008},{"s":"Si","x":18.75,"y":0.04,"e":0.008},{"s":"Si","x":19,"y":0.04,"e":0.008},{"s":"Si","x":19.25,"y":0.04,"e":0.008},
{"s":"Si","x":19.5,"y":0.05,"e":0.01},{"s":"Si","x":19.75,"y":0.05,"e":0.01},{"s":"Si","x":20,"y":0.05,"e":0.01},
{"s":"Si","x":20.25,"y":0.04,"e":0.008},{"s":"Si","x":20.5,"y":0.04,"e":0.008},{"s":"Si","x":20.75,"y":0.04,"e":0.008},{"s":"Si","x":21,"y":0.04,"e":0.008},
{"s":"Si","x":21.25,"y":0.05,"e":0.01},{"s":"Si","x":21.5,"y":0.05,"e":0.01},
{"s":"Si","x":21.75,"y":0.04,"e":0.008},{"s":"Si","x":22,"y":0.04,"e":0.008},{"s":"Si","x":22.25,"y":0.04,"e":0.008},{"s":"Si","x":22.5,"y":0.04,"e":0.008},{"s":"Si","x":22.75,"y":0.04,"e":0.008},
{"s":"Si","x":23,"y":0.03,"e":0.006},{"s":"Si","x":23.25,"y":0.03,"e":0.006},{"s":"Si","x":23.5,"y":0.03,"e":0.006},{"s":"Si","x":23.75,"y":0.03,"e":0.006},
{"s":"Si","x":24,"y":0.04,"e":0.008},{"s":"Si","x":24.25,"y":0.04,"e":0.008},{"s":"Si","x":24.5,"y":0.04,"e":0.008},
{"s":"Si","x":24.75,"y":0.03,"e":0.006},{"s":"Si","x":25,"y":0.03,"e":0.006},{"s":"Si","x":25.25,"y":0.03,"e":0.006},{"s":"Si","x":25.5,"y":0.03,"e":0.006},{"s":"Si","x":25.75,"y":0.03,"e":0.006},
{"s":"Si","x":26,"y":0.02,"e":0.004},{"s":"Si","x":26.25,"y":0.02,"e":0.004},{"s":"Si","x":26.5,"y":0.02,"e":0.004},{"s":"Si","x":26.75,"y":0.02,"e":0.004},{"s":"Si","x":27,"y":0.02,"e":0.004},
{"s":"Si","x":27.25,"y":0.01,"e":0.002},{"s":"Si","x":27.5,"y":0.01,"e":0.002},{"s":"Si","x":27.75,"y":0.01,"e":0.002},{"s":"Si","x":28,"y":0.01,"e":0.002},{"s":"Si","x":28.25,"y":0.01,"e":0.002},{"s":"Si","x":28.5,"y":0.01,"e":0.002},
{"s":"Si","x":28.75,"y":0},{"s":"Si","x":29,"y":0},{"s":"Si","x":29.25,"y":0},{"s":"Si","x":29.5,"y":0},{"s":"Si","x":29.75,"y":0},
{"s":"Tr","x":0.1,"y":0},{"s":"Tr","x":0.4,"y":0},{"s":"Tr","x":0.7,"y":0},{"s":"Tr","x":0.8,"y":0.05},{"s":"Tr","x":0.9,"y":0.2},{"s":"Tr","x":1,"y":0.4},{"s":"Tr","x":1.1,"y":0.57},{"s":"Tr","x":1.2,"y":0.72},{"s":"Tr","x":1.35,"y":0.86},{"s":"Tr","x":1.5,"y":0.96},{"s":"Tr","x":1.7,"y":1},{"s":"Tr","x":1.9,"y":1},{"s":"Tr","x":2.1,"y":0.99},{"s":"Tr","x":2.3,"y":0.98},{"s":"Tr","x":2.5,"y":0.97},{"s":"Tr","x":2.7,"y":0.94},{"s":"Tr","x":2.8,"y":0.88},{"s":"Tr","x":2.9,"y":0.79},{"s":"Tr","x":3,"y":0.7},{"s":"Tr","x":3.1,"y":0.6},{"s":"Tr","x":3.2,"y":0.5},{"s":"Tr","x":3.3,"y":0.36},{"s":"Tr","x":3.4,"y":0.22},{"s":"Tr","x":3.5,"y":0.12},{"s":"Tr","x":3.6,"y":0.07},{"s":"Tr","x":3.8,"y":0.03},{"s":"Tr","x":3.95,"y":0.01},{"s":"Tr","x":4.2,"y":0}
],
"C":[
{"s":"Al","x":0.25,"y":0},{"s":"Al","x":0.5,"y":0},{"s":"Al","x":0.75,"y":0.008,"e":0.001},{"s":"Al","x":1,"y":0.031,"e":0.003},
{"s":"Al","x":1.25,"y":0.04,"e":0.004},{"s":"Al","x":1.5,"y":0.04,"e":0.004},{"s":"Al","x":1.75,"y":0.04,"e":0.004},{"s":"Al","x":2,"y":0.04,"e":0.004},{"s":"Al","x":2.25,"y":0.04,"e":0.004},
{"s":"Al","x":2.5,"y":0.048,"e":0.005},{"s":"Al","x":2.75,"y":0.048,"e":0.005},{"s":"Al","x":3,"y":0.048,"e":0.005},{"s":"Al","x":3.25,"y":0.048,"e":0.005},
{"s":"Al","x":3.5,"y":0.056,"e":0.006},{"s":"Al","x":3.75,"y":0.056,"e":0.006},{"s":"Al","x":4,"y":0.056,"e":0.006},{"s":"Al","x":4.25,"y":0.056,"e":0.006},{"s":"Al","x":4.5,"y":0.056,"e":0.006},
{"s":"Al","x":4.75,"y":0.064,"e":0.006},{"s":"Al","x":5,"y":0.064,"e":0.006},{"s":"Al","x":5.25,"y":0.064,"e":0.006},{"s":"Al","x":5.5,"y":0.064,"e":0.006},{"s":"Al","x":5.75,"y":0.064,"e":0.006},{"s":"Al","x":6,"y":0.064,"e":0.006},{"s":"Al","x":6.25,"y":0.064,"e":0.006},
{"s":"Al","x":6.5,"y":0.072,"e":0.007},{"s":"Al","x":6.75,"y":0.072,"e":0.007},{"s":"Al","x":7,"y":0.072,"e":0.007},
{"s":"Al","x":7.25,"y":0.08,"e":0.008},{"s":"Al","x":7.5,"y":0.08,"e":0.008},{"s":"Al","x":7.75,"y":0.08,"e":0.008},
{"s":"Al","x":8,"y":0.088,"e":0.009},{"s":"Al","x":8.25,"y":0.088,"e":0.009},{"s":"Al","x":8.5,"y":0.088,"e":0.009},
{"s":"Al","x":8.75,"y":0.096,"e":0.01},{"s":"Al","x":9,"y":0.096,"e":0.01},{"s":"Al","x":9.25,"y":0.104,"e":0.01},{"s":"Al","x":9.5,"y":0.104,"e":0.01},{"s":"Al","x":9.75,"y":0.096,"e":0.01},{"s":"Al","x":10,"y":0.096,"e":0.01},
{"s":"Al","x":10.25,"y":0.112,"e":0.011},{"s":"Al","x":10.5,"y":0.112,"e":0.011},{"s":"Al","x":10.75,"y":0.112,"e":0.011},{"s":"Al","x":11,"y":0.112,"e":0.011},
{"s":"Al","x":11.25,"y":0.104,"e":0.01},{"s":"Al","x":11.5,"y":0.104,"e":0.01},{"s":"Al","x":11.75,"y":0.104,"e":0.01},{"s":"Al","x":12,"y":0.104,"e":0.01},
{"s":"Al","x":12.25,"y":0.096,"e":0.01},{"s":"Al","x":12.5,"y":0.096,"e":0.01},{"s":"Al","x":12.75,"y":0.096,"e":0.01},{"s":"Al","x":13,"y":0.096,"e":0.01},{"s":"Al","x":13.25,"y":0.096,"e":0.01},
{"s":"Al","x":13.5,"y":0.104,"e":0.01},{"s":"Al","x":13.75,"y":0.104,"e":0.01},{"s":"Al","x":14,"y":0.104,"e":0.01},{"s":"Al","x":14.25,"y":0.104,"e":0.01},{"s":"Al","x":14.5,"y":0.104,"e":0.01},{"s":"Al","x":14.75,"y":0.104,"e":0.01},
{"s":"Al","x":15,"y":0.096,"e":0.01},{"s":"Al","x":15.25,"y":0.096,"e":0.01},{"s":"Al","x":15.5,"y":0.096,"e":0.01},{"s":"Al","x":15.75,"y":0.096,"e":0.01},
{"s":"Al","x":16,"y":0.088,"e":0.009},{"s":"Al","x":16.25,"y":0.088,"e":0.009},{"s":"Al","x":16.5,"y":0.088,"e":0.009},{"s":"Al","x":16.75,"y":0.088,"e":0.009},{"s":"Al","x":17,"y":0.088,"e":0.009},{"s":"Al","x":17.25,"y":0.088,"e":0.009},{"s":"Al","x":17.5,"y":0.088,"e":0.009},
{"s":"Al","x":17.75,"y":0.096,"e":0.01},{"s":"Al","x":18,"y":0.08,"e":0.008},
{"s":"Al","x":18.25,"y":0.072,"e":0.007},{"s":"Al","x":18.5,"y":0.072,"e":0.007},{"s":"Al","x":18.75,"y":0.072,"e":0.007},{"s":"Al","x":19,"y":0.072,"e":0.007},{"s":"Al","x":19.25,"y":0.072,"e":0.007},{"s":"Al","x":19.5,"y":0.072,"e":0.007},{"s":"Al","x":19.75,"y":0.072,"e":0.007},{"s":"Al","x":20,"y":0.072,"e":0.007},{"s":"Al","x":20.25,"y":0.072,"e":0.007},{"s":"Al","x":20.5,"y":0.072,"e":0.007},
{"s":"Al","x":20.75,"y":0.064,"e":0.006},{"s":"Al","x":21,"y":0.064,"e":0.006},{"s":"Al","x":21.25,"y":0.064,"e":0.006},{"s":"Al","x":21.5,"y":0.064,"e":0.006},{"s":"Al","x":21.75,"y":0.064,"e":0.006},
{"s":"Al","x":22,"y":0.056,"e":0.006},{"s":"Al","x":22.25,"y":0.056,"e":0.006},
{"s":"Al","x":22.5,"y":0.048,"e":0.005},{"s":"Al","x":22.75,"y":0.048,"e":0.005},{"s":"Al","x":23,"y":0.048,"e":0.005},
{"s":"Al","x":23.25,"y":0.04,"e":0.004},{"s":"Al","x":23.5,"y":0.04,"e":0.004},{"s":"Al","x":23.75,"y":0.04,"e":0.004},{"s":"Al","x":24,"y":0.04,"e":0.004},
{"s":"Al","x":24.25,"y":0.032,"e":0.003},{"s":"Al","x":24.5,"y":0.032,"e":0.003},
{"s":"Al","x":24.75,"y":0.024,"e":0.002},{"s":"Al","x":25,"y":0.024,"e":0.002},{"s":"Al","x":25.25,"y":0.024,"e":0.002},{"s":"Al","x":25.5,"y":0.024,"e":0.002},{"s":"Al","x":25.75,"y":0.024,"e":0.002},
{"s":"Al","x":26,"y":0.016,"e":0.002},{"s":"Al","x":26.25,"y":0.016,"e":0.002},{"s":"Al","x":26.5,"y":0.016,"e":0.002},{"s":"Al","x":26.75,"y":0.016,"e":0.002},{"s":"Al","x":27,"y":0.016,"e":0.002},{"s":"Al","x":27.25,"y":0.016,"e":0.002},
{"s":"Al","x":27.5,"y":0},{"s":"Al","x":27.75,"y":0},{"s":"Al","x":28,"y":0},{"s":"Al","x":28.25,"y":0},
{"s":"Si","x":0.25,"y":0},{"s":"Si","x":0.5,"y":0},{"s":"Si","x":0.75,"y":0},{"s":"Si","x":1,"y":0},{"s":"Si","x":1.25,"y":0},
{"s":"Si","x":1.5,"y":0.012,"e":0.002},
{"s":"Si","x":1.75,"y":0.024,"e":0.003},{"s":"Si","x":2,"y":0.024,"e":0.003},{"s":"Si","x":2.25,"y":0.024,"e":0.003},
{"s":"Si","x":2.5,"y":0.035,"e":0.005},{"s":"Si","x":2.75,"y":0.035,"e":0.005},
{"s":"Si","x":3,"y":0.024,"e":0.003},{"s":"Si","x":3.25,"y":0.024,"e":0.003},{"s":"Si","x":3.5,"y":0.024,"e":0.003},{"s":"Si","x":3.75,"y":0.024,"e":0.003},
{"s":"Si","x":4,"y":0.035,"e":0.005},{"s":"Si","x":4.25,"y":0.035,"e":0.005},
{"s":"Si","x":4.5,"y":0.047,"e":0.006},{"s":"Si","x":4.75,"y":0.047,"e":0.006},{"s":"Si","x":5,"y":0.047,"e":0.006},
{"s":"Si","x":5.25,"y":0.024,"e":0.003},{"s":"Si","x":5.5,"y":0.024,"e":0.003},
{"s":"Si","x":5.75,"y":0.047,"e":0.006},{"s":"Si","x":6,"y":0.047,"e":0.006},{"s":"Si","x":6.25,"y":0.047,"e":0.006},{"s":"Si","x":6.5,"y":0.047,"e":0.006},
{"s":"Si","x":6.75,"y":0.024,"e":0.003},{"s":"Si","x":7,"y":0.024,"e":0.003},
{"s":"Si","x":7.25,"y":0.035,"e":0.005},{"s":"Si","x":7.5,"y":0.035,"e":0.005},
{"s":"Si","x":7.75,"y":0.047,"e":0.006},{"s":"Si","x":8,"y":0.047,"e":0.006},
{"s":"Si","x":8.25,"y":0.059,"e":0.008},{"s":"Si","x":8.5,"y":0.059,"e":0.008},
{"s":"Si","x":8.75,"y":0.035,"e":0.005},{"s":"Si","x":9,"y":0.035,"e":0.005},{"s":"Si","x":9.25,"y":0.035,"e":0.005},
{"s":"Si","x":9.5,"y":0.059,"e":0.008},{"s":"Si","x":9.75,"y":0.059,"e":0.008},{"s":"Si","x":10,"y":0.059,"e":0.008},
{"s":"Si","x":10.25,"y":0.047,"e":0.006},
{"s":"Si","x":10.5,"y":0.035,"e":0.005},{"s":"Si","x":10.75,"y":0.035,"e":0.005},
{"s":"Si","x":11,"y":0.047,"e":0.006},{"s":"Si","x":11.25,"y":0.047,"e":0.006},{"s":"Si","x":11.5,"y":0.047,"e":0.006},{"s":"Si","x":11.75,"y":0.047,"e":0.006},
{"s":"Si","x":12,"y":0.035,"e":0.005},{"s":"Si","x":12.25,"y":0.035,"e":0.005},
{"s":"Si","x":12.5,"y":0.047,"e":0.006},{"s":"Si","x":12.75,"y":0.047,"e":0.006},
{"s":"Si","x":13,"y":0.035,"e":0.005},{"s":"Si","x":13.25,"y":0.035,"e":0.005},
{"s":"Si","x":13.5,"y":0.047,"e":0.006},{"s":"Si","x":13.75,"y":0.059,"e":0.008},
{"s":"Si","x":14,"y":0.047,"e":0.006},{"s":"Si","x":14.25,"y":0.047,"e":0.006},
{"s":"Si","x":14.5,"y":0.035,"e":0.005},{"s":"Si","x":14.75,"y":0.035,"e":0.005},
{"s":"Si","x":15,"y":0.047,"e":0.006},{"s":"Si","x":15.25,"y":0.059,"e":0.008},{"s":"Si","x":15.5,"y":0.059,"e":0.008},
{"s":"Si","x":15.75,"y":0.047,"e":0.006},{"s":"Si","x":16,"y":0.047,"e":0.006},{"s":"Si","x":16.25,"y":0.047,"e":0.006},
{"s":"Si","x":16.5,"y":0.059,"e":0.008},{"s":"Si","x":16.75,"y":0.059,"e":0.008},{"s":"Si","x":17,"y":0.059,"e":0.008},{"s":"Si","x":17.25,"y":0.059,"e":0.008},
{"s":"Si","x":17.5,"y":0.071,"e":0.009},
{"s":"Si","x":17.75,"y":0.047,"e":0.006},{"s":"Si","x":18,"y":0.047,"e":0.006},{"s":"Si","x":18.25,"y":0.047,"e":0.006},
{"s":"Si","x":18.5,"y":0.071,"e":0.009},{"s":"Si","x":18.75,"y":0.082,"e":0.011},{"s":"Si","x":19,"y":0.082,"e":0.011},
{"s":"Si","x":19.25,"y":0.071,"e":0.009},{"s":"Si","x":19.5,"y":0.071,"e":0.009},
{"s":"Si","x":19.75,"y":0.059,"e":0.008},{"s":"Si","x":20,"y":0.059,"e":0.008},{"s":"Si","x":20.25,"y":0.059,"e":0.008},
{"s":"Si","x":20.5,"y":0.071,"e":0.009},{"s":"Si","x":20.75,"y":0.071,"e":0.009},
{"s":"Si","x":21,"y":0.082,"e":0.011},{"s":"Si","x":21.25,"y":0.082,"e":0.011},
{"s":"Si","x":21.5,"y":0.071,"e":0.009},{"s":"Si","x":21.75,"y":0.071,"e":0.009},{"s":"Si","x":22,"y":0.071,"e":0.009},
{"s":"Si","x":22.25,"y":0.082,"e":0.011},
{"s":"Si","x":22.5,"y":0.059,"e":0.008},{"s":"Si","x":22.75,"y":0.059,"e":0.008},{"s":"Si","x":23,"y":0.059,"e":0.008},
{"s":"Si","x":23.25,"y":0.035,"e":0.005},{"s":"Si","x":23.5,"y":0.035,"e":0.005},{"s":"Si","x":23.75,"y":0.035,"e":0.005},{"s":"Si","x":24,"y":0.035,"e":0.005},{"s":"Si","x":24.25,"y":0.035,"e":0.005},
{"s":"Si","x":24.5,"y":0.012,"e":0.002},{"s":"Si","x":24.75,"y":0.012,"e":0.002},{"s":"Si","x":25,"y":0.012,"e":0.002},{"s":"Si","x":25.25,"y":0.012,"e":0.002},{"s":"Si","x":25.5,"y":0.012,"e":0.002},{"s":"Si","x":25.75,"y":0.012,"e":0.002},
{"s":"Si","x":26,"y":0},{"s":"Si","x":26.25,"y":0},{"s":"Si","x":26.5,"y":0},
{"s":"Ti","x":0.25,"y":0},{"s":"Ti","x":0.5,"y":0},{"s":"Ti","x":0.75,"y":0},{"s":"Ti","x":1,"y":0},{"s":"Ti","x":1.25,"y":0},
{"s":"Ti","x":1.5,"y":0.014,"e":0.002},
{"s":"Ti","x":1.75,"y":0.033,"e":0.005},{"s":"Ti","x":2,"y":0.033,"e":0.005},{"s":"Ti","x":2.25,"y":0.033,"e":0.005},{"s":"Ti","x":2.5,"y":0.033,"e":0.005},
{"s":"Ti","x":2.75,"y":0.038,"e":0.006},{"s":"Ti","x":3,"y":0.038,"e":0.006},{"s":"Ti","x":3.25,"y":0.038,"e":0.006},
{"s":"Ti","x":3.5,"y":0.042,"e":0.006},{"s":"Ti","x":3.75,"y":0.042,"e":0.006},{"s":"Ti","x":4,"y":0.042,"e":0.006},{"s":"Ti","x":4.25,"y":0.042,"e":0.006},
{"s":"Ti","x":4.5,"y":0.047,"e":0.007},{"s":"Ti","x":4.75,"y":0.047,"e":0.007},{"s":"Ti","x":5,"y":0.047,"e":0.007},{"s":"Ti","x":5.25,"y":0.047,"e":0.007},{"s":"Ti","x":5.5,"y":0.047,"e":0.007},{"s":"Ti","x":5.75,"y":0.047,"e":0.007},{"s":"Ti","x":6,"y":0.047,"e":0.007},{"s":"Ti","x":6.25,"y":0.047,"e":0.007},{"s":"Ti","x":6.5,"y":0.047,"e":0.007},
{"s":"Ti","x":6.75,"y":0.052,"e":0.008},{"s":"Ti","x":7,"y":0.052,"e":0.008},
{"s":"Ti","x":7.25,"y":0.056,"e":0.008},{"s":"Ti","x":7.5,"y":0.056,"e":0.008},{"s":"Ti","x":7.75,"y":0.056,"e":0.008},{"s":"Ti","x":8,"y":0.056,"e":0.008},{"s":"Ti","x":8.25,"y":0.056,"e":0.008},
{"s":"Ti","x":8.5,"y":0.052,"e":0.008},{"s":"Ti","x":8.75,"y":0.052,"e":0.008},{"s":"Ti","x":9,"y":0.052,"e":0.008},{"s":"Ti","x":9.25,"y":0.052,"e":0.008},{"s":"Ti","x":9.5,"y":0.052,"e":0.008},{"s":"Ti","x":9.75,"y":0.052,"e":0.008},
{"s":"Ti","x":10,"y":0.056,"e":0.008},
{"s":"Ti","x":10.25,"y":0.066,"e":0.01},{"s":"Ti","x":10.5,"y":0.066,"e":0.01},
{"s":"Ti","x":10.75,"y":0.07,"e":0.011},{"s":"Ti","x":11,"y":0.07,"e":0.011},{"s":"Ti","x":11.25,"y":0.07,"e":0.011},{"s":"Ti","x":11.5,"y":0.07,"e":0.011},{"s":"Ti","x":11.75,"y":0.07,"e":0.011},{"s":"Ti","x":12,"y":0.07,"e":0.011},{"s":"Ti","x":12.25,"y":0.07,"e":0.011},{"s":"Ti","x":12.5,"y":0.07,"e":0.011},
{"s":"Ti","x":12.75,"y":0.066,"e":0.01},
{"s":"Ti","x":13,"y":0.061,"e":0.009},{"s":"Ti","x":13.25,"y":0.061,"e":0.009},{"s":"Ti","x":13.5,"y":0.061,"e":0.009},{"s":"Ti","x":13.75,"y":0.061,"e":0.009},{"s":"Ti","x":14,"y":0.061,"e":0.009},{"s":"Ti","x":14.25,"y":0.061,"e":0.009},{"s":"Ti","x":14.5,"y":0.061,"e":0.009},
{"s":"Ti","x":14.75,"y":0.056,"e":0.008},{"s":"Ti","x":15,"y":0.056,"e":0.008},{"s":"Ti","x":15.25,"y":0.056,"e":0.008},{"s":"Ti","x":15.5,"y":0.056,"e":0.008},{"s":"Ti","x":15.75,"y":0.056,"e":0.008},{"s":"Ti","x":16,"y":0.056,"e":0.008},
{"s":"Ti","x":16.25,"y":0.052,"e":0.008},{"s":"Ti","x":16.5,"y":0.052,"e":0.008},{"s":"Ti","x":16.75,"y":0.052,"e":0.008},{"s":"Ti","x":17,"y":0.052,"e":0.008},{"s":"Ti","x":17.25,"y":0.052,"e":0.008},
{"s":"Ti","x":17.5,"y":0.056,"e":0.008},{"s":"Ti","x":17.75,"y":0.056,"e":0.008},{"s":"Ti","x":18,"y":0.056,"e":0.008},{"s":"Ti","x":18.25,"y":0.056,"e":0.008},{"s":"Ti","x":18.5,"y":0.056,"e":0.008},{"s":"Ti","x":18.75,"y":0.056,"e":0.008},{"s":"Ti","x":19,"y":0.056,"e":0.008},{"s":"Ti","x":19.25,"y":0.056,"e":0.008},{"s":"Ti","x":19.5,"y":0.056,"e":0.008},
{"s":"Ti","x":19.75,"y":0.052,"e":0.008},{"s":"Ti","x":20,"y":0.052,"e":0.008},{"s":"Ti","x":20.25,"y":0.052,"e":0.008},{"s":"Ti","x":20.5,"y":0.052,"e":0.008},{"s":"Ti","x":20.75,"y":0.052,"e":0.008},{"s":"Ti","x":21,"y":0.052,"e":0.008},{"s":"Ti","x":21.25,"y":0.052,"e":0.008},
{"s":"Ti","x":21.5,"y":0.056,"e":0.008},{"s":"Ti","x":21.75,"y":0.056,"e":0.008},{"s":"Ti","x":22,"y":0.056,"e":0.008},{"s":"Ti","x":22.25,"y":0.056,"e":0.008},{"s":"Ti","x":22.5,"y":0.056,"e":0.008},{"s":"Ti","x":22.75,"y":0.056,"e":0.008},{"s":"Ti","x":23,"y":0.056,"e":0.008},
{"s":"Ti","x":23.25,"y":0.052,"e":0.008},{"s":"Ti","x":23.5,"y":0.052,"e":0.008},{"s":"Ti","x":23.75,"y":0.052,"e":0.008},
{"s":"Ti","x":24,"y":0.056,"e":0.008},{"s":"Ti","x":24.25,"y":0.056,"e":0.008},{"s":"Ti","x":24.5,"y":0.052,"e":0.008},
{"s":"Ti","x":24.75,"y":0.047,"e":0.007},{"s":"Ti","x":25,"y":0.047,"e":0.007},{"s":"Ti","x":25.25,"y":0.047,"e":0.007},{"s":"Ti","x":25.5,"y":0.047,"e":0.007},{"s":"Ti","x":25.75,"y":0.047,"e":0.007},{"s":"Ti","x":26,"y":0.047,"e":0.007},{"s":"Ti","x":26.25,"y":0.047,"e":0.007},{"s":"Ti","x":26.5,"y":0.047,"e":0.007},{"s":"Ti","x":26.75,"y":0.047,"e":0.007},{"s":"Ti","x":27,"y":0.047,"e":0.007},{"s":"Ti","x":27.25,"y":0.047,"e":0.007},
{"s":"Ti","x":27.5,"y":0.042,"e":0.006},{"s":"Ti","x":27.75,"y":0.042,"e":0.006},{"s":"Ti","x":28,"y":0.042,"e":0.006},
{"s":"Ti","x":28.25,"y":0.038,"e":0.006},{"s":"Ti","x":28.5,"y":0.033,"e":0.005},{"s":"Ti","x":28.75,"y":0.024,"e":0.004},{"s":"Ti","x":29,"y":0.024,"e":0.004},{"s":"Ti","x":29.25,"y":0.019,"e":0.003},{"s":"Ti","x":29.5,"y":0.0095,"e":0.001},
{"s":"Ti","x":29.75,"y":0},{"s":"Ti","x":30,"y":0},{"s":"Ti","x":30.25,"y":0},{"s":"Ti","x":30.5,"y":0},
{"s":"Tr","x":0.2,"y":0},{"s":"Tr","x":0.5,"y":0},{"s":"Tr","x":0.83,"y":0},{"s":"Tr","x":0.93,"y":0.09},{"s":"Tr","x":1.03,"y":0.23},{"s":"Tr","x":1.13,"y":0.43},{"s":"Tr","x":1.22,"y":0.63},{"s":"Tr","x":1.32,"y":0.82},{"s":"Tr","x":1.42,"y":0.96},{"s":"Tr","x":1.6,"y":0.99},{"s":"Tr","x":1.8,"y":1},{"s":"Tr","x":2,"y":0.99},{"s":"Tr","x":2.2,"y":1},{"s":"Tr","x":2.6,"y":1},{"s":"Tr","x":2.85,"y":0.97},{"s":"Tr","x":2.97,"y":0.89},{"s":"Tr","x":3.07,"y":0.72},{"s":"Tr","x":3.17,"y":0.53},{"s":"Tr","x":3.26,"y":0.33},{"s":"Tr","x":3.36,"y":0.18},{"s":"Tr","x":3.55,"y":0.06},{"s":"Tr","x":3.75,"y":0.01},{"s":"Tr","x":4.05,"y":0.003},{"s":"Tr","x":4.3,"y":0}
]
},
"vconcat":[
{"width":537,"height":335,"data":{"name":"A"},
"resolve":{"scale":{"y":"independent"}},
"layer":[
{"layer":[
{"encoding":{
"x":{"field":"x","type":"quantitative","scale":{"domain":[0,32],"nice":false},"axis":{"values":[0,4,8,12,16,20,24,28,32],"title":"Pore volume","labelFont":"Liberation Serif","titleFont":"Liberation Serif"}},
"y":{"field":"y","type":"quantitative","title":"C/C₀","scale":{"domain":[0,0.2],"nice":false},"axis":{"values":[0,0.04,0.08,0.12,0.16,0.2],"format":".2~f","labelFont":"Liberation Serif","titleFont":"Liberation Serif"}}},
"layer":[
{"transform":[{"filter":"datum.s=='Al' && datum.e>0"}],"mark":{"type":"errorbar","color":"#5c9f77","rule":{"strokeWidth":1.2}},"encoding":{"yError":{"field":"e"}}},
{"transform":[{"filter":"datum.s=='Si' && datum.e>0"}],"mark":{"type":"errorbar","color":"#5289b4","rule":{"strokeWidth":1.2}},"encoding":{"yError":{"field":"e"}}},
{"transform":[{"filter":"datum.s=='Ti' && datum.e>0"}],"mark":{"type":"errorbar","color":"#b1474b","rule":{"strokeWidth":1.2}},"encoding":{"yError":{"field":"e"}}},
{"transform":[{"filter":"datum.s=='Al'"}],"mark":{"type":"line","color":"#1fa84f","strokeWidth":4}},
{"transform":[{"filter":"datum.s=='Si'"}],"mark":{"type":"line","color":"#1f78c1","strokeWidth":4}},
{"transform":[{"filter":"datum.s=='Ti'"}],"mark":{"type":"line","color":"#ee2222","strokeWidth":2.2,"strokeDash":[5,3]}},
{"transform":[{"filter":"datum.s=='Al'"}],"mark":{"type":"point","shape":"triangle-up","size":36,"filled":true,"color":"#1fa84f","opacity":1}},
{"transform":[{"filter":"datum.s=='Si'"}],"mark":{"type":"point","shape":"diamond","size":22,"filled":true,"color":"#2a7fc6","opacity":1}},
{"transform":[{"filter":"datum.s=='Ti'"}],"mark":{"type":"point","shape":"circle","size":40,"filled":true,"fill":"#ffffff","stroke":"#ee2222","strokeWidth":1.5,"opacity":1}},
{"transform":[{"filter":"datum.x<0"}],"mark":{"type":"point","filled":false,"opacity":1},
"encoding":{
"color":{"field":"s","type":"nominal","scale":{"domain":["Al","Ti","Si","Tr"],"range":["#1fa84f","#ee2222","#1f78c1","#000000"]},
"legend":{"title":null,"orient":"none","legendX":333,"legendY":22,"strokeColor":"#d9262b","fillColor":"#ffffff","padding":5,"labelFont":"Liberation Serif","labelFontSize":21,"labelColor":"#000000","labelLimit":0,"symbolSize":300,"symbolOffset":30,"labelOffset":19,"rowPadding":1,
"labelExpr":"datum.label=='Al'?'Al₂O₃':datum.label=='Ti'?'TiO₂':datum.label=='Si'?'SiO₂':'Tracer test'"}},
"shape":{"field":"s","type":"nominal","scale":{"domain":["Al","Ti","Si","Tr"],"range":["M-3,0H3M0,-0.6L0.55,0.35H-0.55Z","M-3,0H-2.3M-1.9,0H-1.2M-0.8,0H-0.5M0.5,0H0.8M1.2,0H1.9M2.3,0H3M0.45,0A0.45,0.45,0,1,1,-0.45,0A0.45,0.45,0,1,1,0.45,0","M-3,0H3M0,-0.3L0.3,0L0,0.3L-0.3,0Z","M-3,0H-1.9M-1.4,0H-0.3M0.2,0H1.3M1.8,0H2.9"]}},
"strokeWidth":{"field":"s","type":"nominal","scale":{"type":"ordinal","domain":["Al","Ti","Si","Tr"],"range":[4,2,4,3.5]}}}}
]},
{"data":{"values":[{"t":"a"}]},"mark":{"type":"point","shape":"M-0.7,-1H0.7V1H-0.7Z","size":1521,"filled":false,"stroke":"#d9262b","strokeWidth":2,"opacity":1},"encoding":{"x":{"datum":15.7,"type":"quantitative"},"y":{"datum":0.181,"type":"quantitative"}}},
{"data":{"values":[{"t":"a"}]},"mark":{"type":"text","font":"Liberation Serif","fontSize":34,"fontWeight":"bold","align":"center","baseline":"middle","color":"#000000","dy":-2},"encoding":{"text":{"field":"t"},"x":{"datum":15.7,"type":"quantitative"},"y":{"datum":0.181,"type":"quantitative"}}}
]},
{"transform":[{"filter":"datum.s=='Tr'"}],"mark":{"type":"line","color":"#000000","strokeWidth":3.5,"strokeDash":[7,5],"interpolate":"monotone"},
"encoding":{"x":{"field":"x","type":"quantitative","scale":{"domain":[0,32],"nice":false}},
"y":{"field":"y","type":"quantitative","scale":{"domain":[0,1],"nice":false},"axis":{"orient":"right","values":[0,0.25,0.5,0.75,1],"format":".2~f","title":null,"labelFont":"Liberation Serif"}}}}
]},
{"width":537,"height":334,"data":{"name":"B"},
"resolve":{"scale":{"y":"independent"}},
"layer":[
{"layer":[
{"encoding":{
"x":{"field":"x","type":"quantitative","scale":{"domain":[0,30],"nice":false},"axis":{"values":[0,5,10,15,20,25,30],"title":"Pore Volume","labelFont":"Liberation Serif","titleFont":"Liberation Serif"}},
"y":{"field":"y","type":"quantitative","title":"C/C₀","scale":{"domain":[0,0.14],"nice":false},"axis":{"values":[0,0.02,0.04,0.06,0.08,0.1,0.12,0.14],"format":".2f","labelFont":"Liberation Serif","titleFont":"Liberation Serif"}}},
"layer":[
{"transform":[{"filter":"datum.s=='Al' && datum.e>0"}],"mark":{"type":"errorbar","color":"#63a27f","rule":{"strokeWidth":1.2}},"encoding":{"yError":{"field":"e"}}},
{"transform":[{"filter":"datum.s=='Ti' && datum.e>0"}],"mark":{"type":"errorbar","color":"#b1474b","rule":{"strokeWidth":1.2}},"encoding":{"yError":{"field":"e"}}},
{"transform":[{"filter":"datum.s=='Si' && datum.e>0"}],"mark":{"type":"errorbar","color":"#5289b4","rule":{"strokeWidth":1.2}},"encoding":{"yError":{"field":"e"}}},
{"transform":[{"filter":"datum.s=='Al'"}],"mark":{"type":"line","color":"#1fa84f","strokeWidth":2}},
{"transform":[{"filter":"datum.s=='Ti'"}],"mark":{"type":"line","color":"#ee2222","strokeWidth":2.5,"strokeDash":[5,3]}},
{"transform":[{"filter":"datum.s=='Si'"}],"mark":{"type":"line","color":"#1f78c1","strokeWidth":2.5}},
{"transform":[{"filter":"datum.s=='Al'"}],"mark":{"type":"point","shape":"triangle-up","size":60,"filled":true,"color":"#1fa84f","opacity":1}},
{"transform":[{"filter":"datum.s=='Ti'"}],"mark":{"type":"point","shape":"circle","size":45,"filled":true,"fill":"#ffffff","stroke":"#ee2222","strokeWidth":1.5,"opacity":1}},
{"transform":[{"filter":"datum.s=='Si'"}],"mark":{"type":"point","shape":"diamond","size":30,"filled":true,"color":"#1f78c1","opacity":1}},
{"transform":[{"filter":"datum.x<0"}],"mark":{"type":"point","filled":false,"opacity":1},
"encoding":{
"color":{"field":"s","type":"nominal","scale":{"domain":["Al","Ti","Si","Tr"],"range":["#1fa84f","#b8393c","#1f78c1","#000000"]},
"legend":{"title":null,"orient":"none","legendX":351,"legendY":17,"strokeColor":"#d9262b","fillColor":"#ffffff","padding":4,"labelFont":"Liberation Serif","labelFontSize":21,"labelColor":"#000000","labelLimit":0,"symbolSize":300,"symbolOffset":28,"labelOffset":20,"rowPadding":0,
"labelExpr":"datum.label=='Al'?'Al₂O₃':datum.label=='Ti'?'TiO₂':datum.label=='Si'?'SiO₂':'Tracer test'"}},
"shape":{"field":"s","type":"nominal","scale":{"domain":["Al","Ti","Si","Tr"],"range":["M-3,0H3M0,-0.6L0.55,0.35H-0.55Z","M-3,0H-2.3M-1.9,0H-1.2M-0.8,0H-0.5M0.5,0H0.8M1.2,0H1.9M2.3,0H3M0.45,0A0.45,0.45,0,1,1,-0.45,0A0.45,0.45,0,1,1,0.45,0","M-3,0H3M0,-0.25L0.25,0L0,0.25L-0.25,0Z","M-3,0H-1.9M-1.3,0H-0.2M0.4,0H1.5M2.1,0H3"]}},
"strokeWidth":{"field":"s","type":"nominal","scale":{"type":"ordinal","domain":["Al","Ti","Si","Tr"],"range":[2.5,2,2.5,5]}}}}
]},
{"data":{"values":[{"t":"b"}]},"mark":{"type":"point","shape":"M-0.87,-1H0.87V1H-0.87Z","size":1444,"filled":false,"stroke":"#d9262b","strokeWidth":2,"opacity":1},"encoding":{"x":{"datum":15.14,"type":"quantitative"},"y":{"datum":0.128,"type":"quantitative"}}},
{"data":{"values":[{"t":"b"}]},"mark":{"type":"text","font":"Liberation Serif","fontSize":34,"fontWeight":"bold","align":"center","baseline":"middle","color":"#000000","dy":-1},"encoding":{"text":{"field":"t"},"x":{"datum":15.14,"type":"quantitative"},"y":{"datum":0.128,"type":"quantitative"}}}
]},
{"transform":[{"filter":"datum.s=='Tr'"}],"mark":{"type":"line","color":"#000000","strokeWidth":5,"strokeDash":[12,7],"interpolate":"monotone"},
"encoding":{"x":{"field":"x","type":"quantitative","scale":{"domain":[0,30],"nice":false}},
"y":{"field":"y","type":"quantitative","scale":{"domain":[0,1],"nice":false},"axis":{"orient":"right","values":[0,0.2,0.4,0.6,0.8,1],"format":".1~f","title":null,"labelFont":"Liberation Serif"}}}}
]},
{"width":543,"height":340,"data":{"name":"C"},
"resolve":{"scale":{"y":"independent"}},
"layer":[
{"layer":[
{"encoding":{
"x":{"field":"x","type":"quantitative","scale":{"domain":[0,32],"nice":false},"axis":{"values":[0,4,8,12,16,20,24,28,32],"title":"Pore volume","labelFont":"Liberation Serif","titleFont":"Liberation Serif"}},
"y":{"field":"y","type":"quantitative","title":"C/C₀","scale":{"domain":[0,0.14],"nice":false},"axis":{"values":[0,0.02,0.04,0.06,0.08,0.1,0.12,0.14],"format":".2~f","labelFont":"Liberation Serif","titleFont":"Liberation Serif"}}},
"layer":[
{"transform":[{"filter":"datum.s=='Al' && datum.e>0"}],"mark":{"type":"errorbar","color":"#5c9f77","rule":{"strokeWidth":1.2}},"encoding":{"yError":{"field":"e"}}},
{"transform":[{"filter":"datum.s=='Si' && datum.e>0"}],"mark":{"type":"errorbar","color":"#5289b4","rule":{"strokeWidth":1.2}},"encoding":{"yError":{"field":"e"}}},
{"transform":[{"filter":"datum.s=='Ti' && datum.e>0"}],"mark":{"type":"errorbar","color":"#b1474b","rule":{"strokeWidth":1.2}},"encoding":{"yError":{"field":"e"}}},
{"transform":[{"filter":"datum.s=='Al'"}],"mark":{"type":"line","color":"#1fa84f","strokeWidth":4.5}},
{"transform":[{"filter":"datum.s=='Si'"}],"mark":{"type":"line","color":"#1f78c1","strokeWidth":2}},
{"transform":[{"filter":"datum.s=='Ti'"}],"mark":{"type":"line","color":"#ee2222","strokeWidth":2}},
{"transform":[{"filter":"datum.s=='Al'"}],"mark":{"type":"point","shape":"triangle-up","size":30,"filled":true,"color":"#1fa84f","opacity":1}},
{"transform":[{"filter":"datum.s=='Si'"}],"mark":{"type":"point","shape":"diamond","size":25,"filled":true,"color":"#1f78c1","opacity":1}},
{"transform":[{"filter":"datum.s=='Ti'"}],"mark":{"type":"point","shape":"circle","size":45,"filled":true,"fill":"#ffffff","stroke":"#ee2222","strokeWidth":1.5,"opacity":1}},
{"transform":[{"filter":"datum.x<0"}],"mark":{"type":"point","filled":false,"opacity":1},
"encoding":{
"color":{"field":"s","type":"nominal","scale":{"domain":["Al","Si","Ti","Tr"],"range":["#1fa84f","#1f78c1","#ee2222","#000000"]},
"legend":{"title":null,"orient":"none","legendX":379,"legendY":-7,"strokeColor":"#d9262b","fillColor":"#ffffff","padding":4,"labelFont":"Liberation Serif","labelFontSize":20,"labelColor":"#000000","labelLimit":0,"symbolSize":300,"symbolOffset":28,"labelOffset":14,"rowPadding":0,
"labelExpr":"datum.label=='Al'?'Al₂O₃':datum.label=='Ti'?'TiO₂':datum.label=='Si'?'SiO₂':'Tracer test'"}},
"shape":{"field":"s","type":"nominal","scale":{"domain":["Al","Si","Ti","Tr"],"range":["M-3,0H3M0,-0.6L0.55,0.35H-0.55Z","M-3,0H3M0,-0.25L0.25,0L0,0.25L-0.25,0Z","M-3,0H-0.45M0.45,0H3M0.45,0A0.45,0.45,0,1,1,-0.45,0A0.45,0.45,0,1,1,0.45,0","M-3,0H-1.9M-1.3,0H-0.2M0.4,0H1.5M2.1,0H3"]}},
"strokeWidth":{"field":"s","type":"nominal","scale":{"type":"ordinal","domain":["Al","Si","Ti","Tr"],"range":[4.5,2,2,4.5]}}}}
]},
{"data":{"values":[{"t":"c"}]},"mark":{"type":"point","shape":"M-0.857,-1H0.857V1H-0.857Z","size":1764,"filled":false,"stroke":"#d9262b","strokeWidth":2,"opacity":1},"encoding":{"x":{"datum":16.09,"type":"quantitative"},"y":{"datum":0.1367,"type":"quantitative"}}},
{"data":{"values":[{"t":"c"}]},"mark":{"type":"text","font":"Liberation Serif","fontSize":36,"fontWeight":"bold","align":"center","baseline":"middle","color":"#000000","dy":-3},"encoding":{"text":{"field":"t"},"x":{"datum":16.09,"type":"quantitative"},"y":{"datum":0.1367,"type":"quantitative"}}}
]},
{"transform":[{"filter":"datum.s=='Tr'"}],"mark":{"type":"line","color":"#000000","strokeWidth":4.5,"strokeDash":[9,6],"interpolate":"monotone"},
"encoding":{"x":{"field":"x","type":"quantitative","scale":{"domain":[0,32],"nice":false}},
"y":{"field":"y","type":"quantitative","scale":{"domain":[0,1],"nice":false},"axis":{"orient":"right","values":[0,0.2,0.4,0.6,0.8,1],"format":".1~f","title":null,"labelFont":"Liberation Serif"}}}}
]}
]
}
